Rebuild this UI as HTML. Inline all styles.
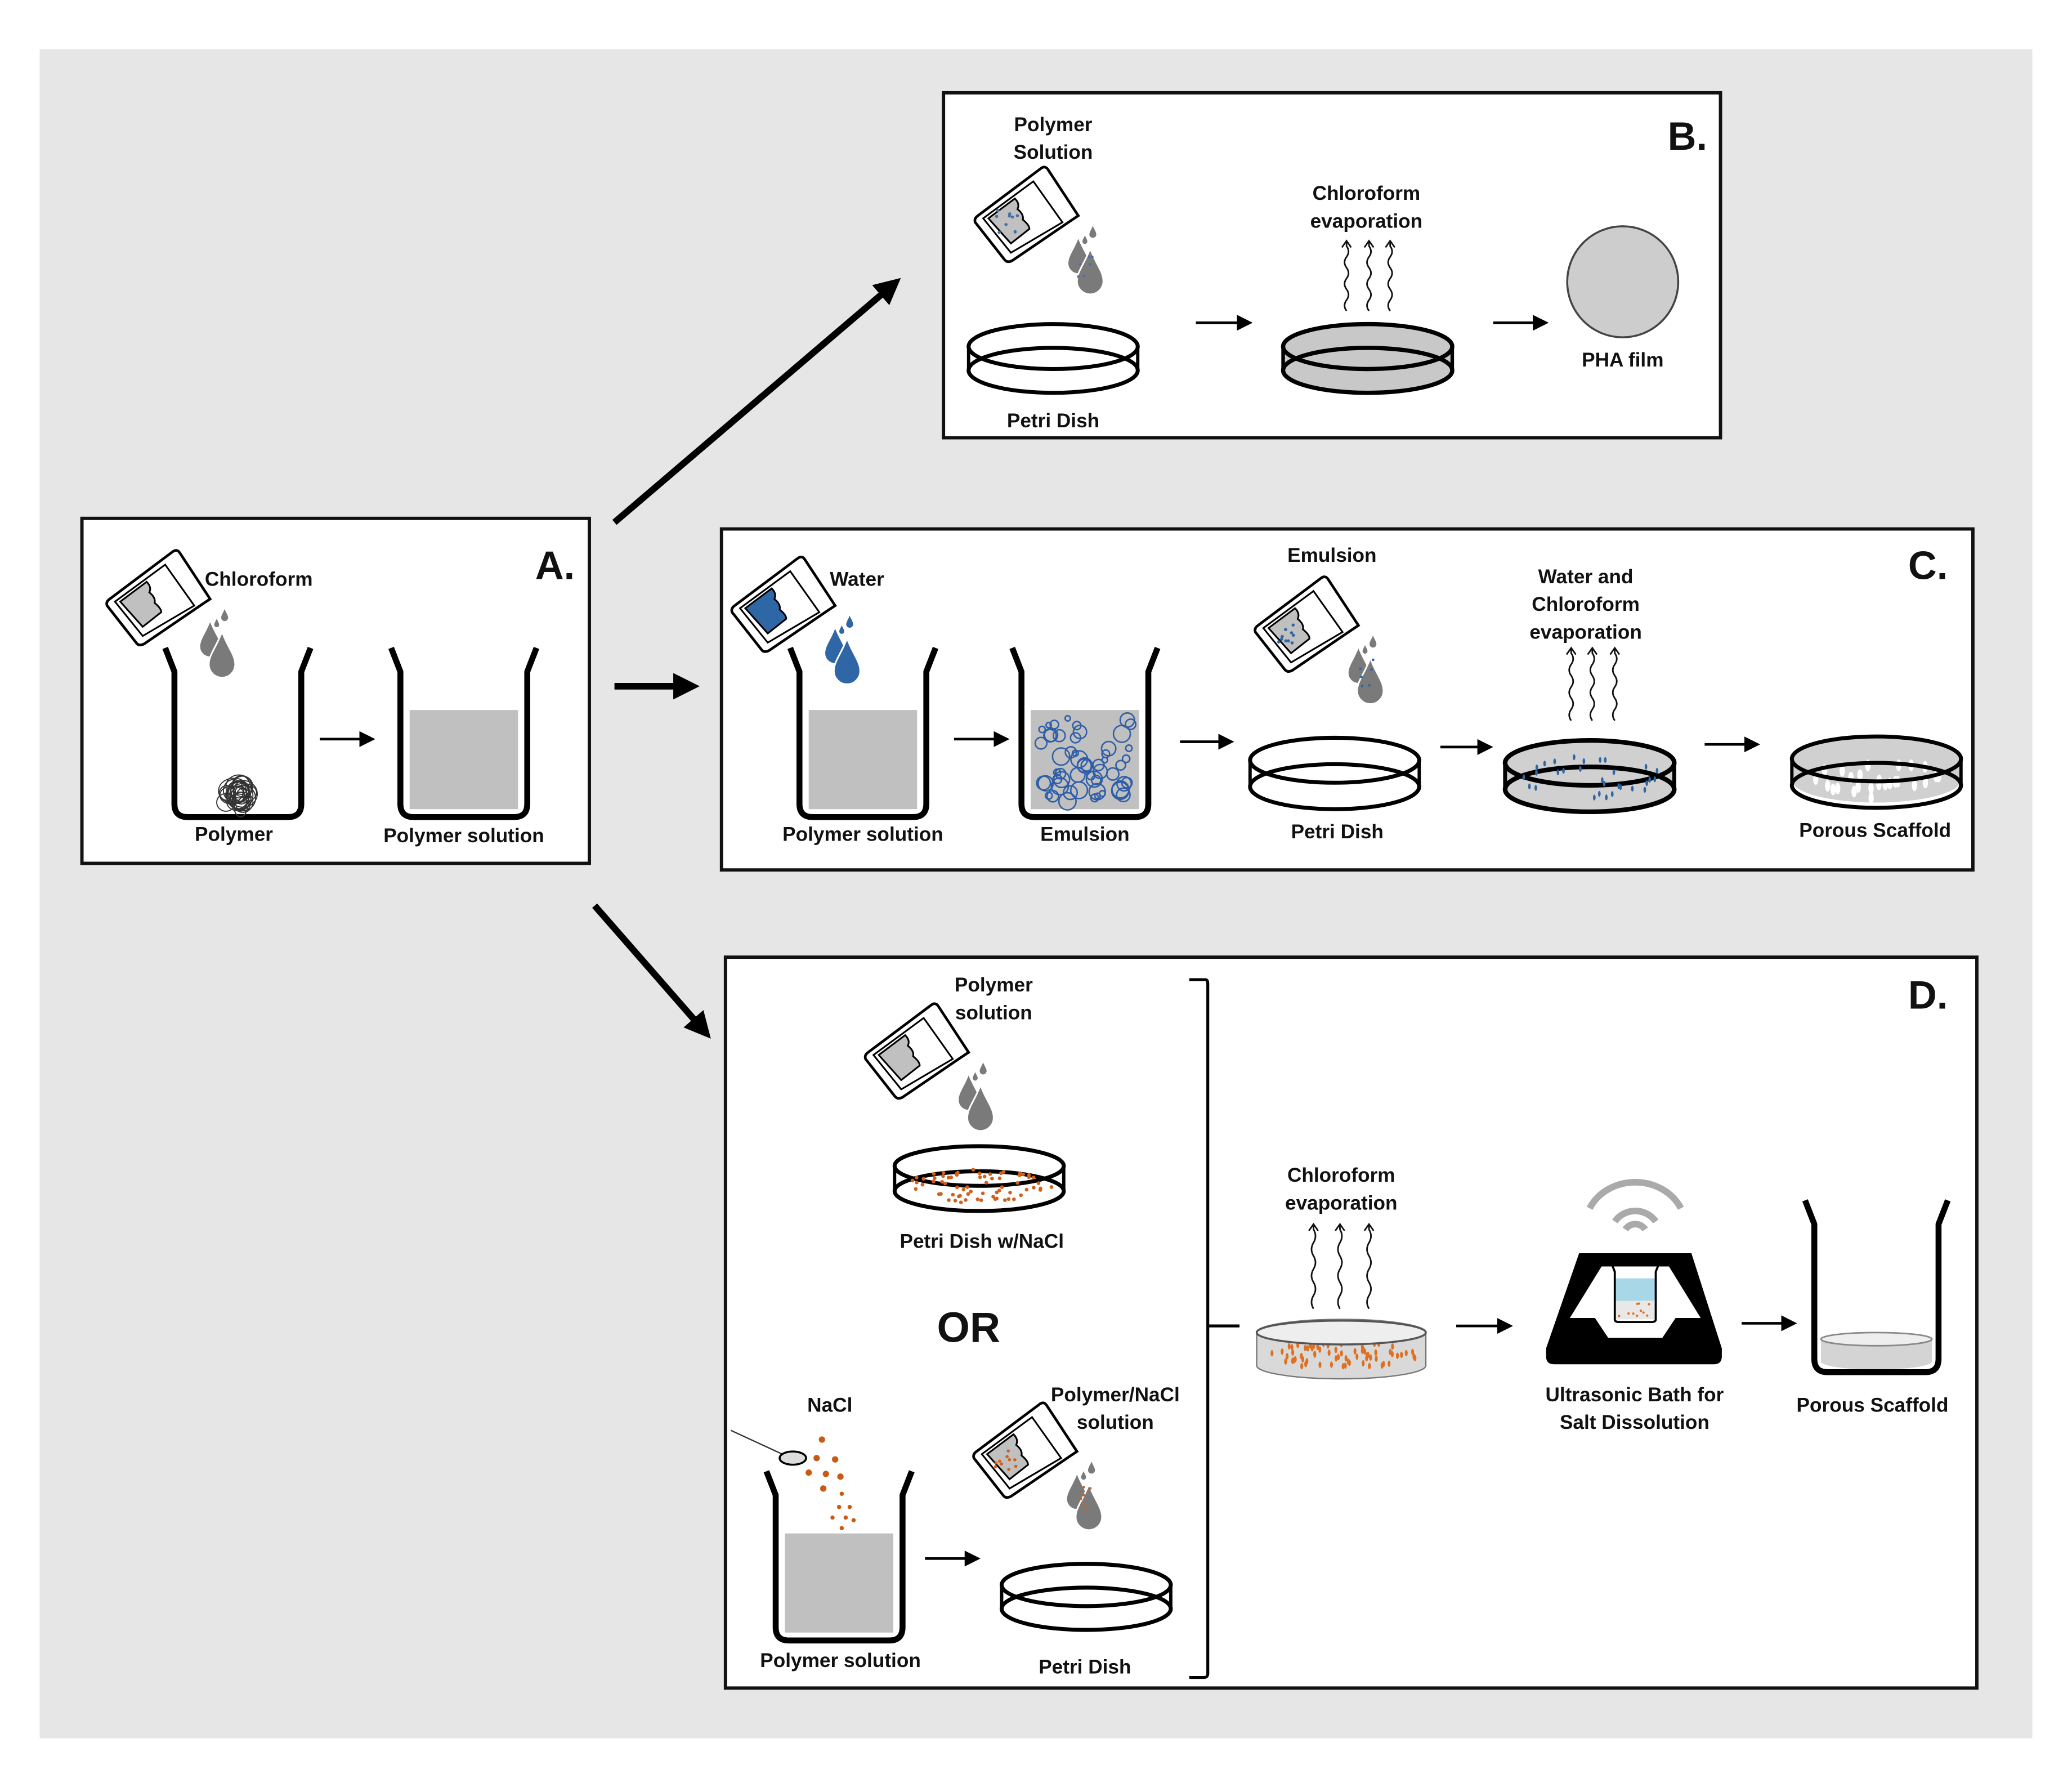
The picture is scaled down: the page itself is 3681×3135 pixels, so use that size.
<!DOCTYPE html>
<html><head><meta charset="utf-8">
<style>
html,body{margin:0;padding:0;background:#fff;}
svg{display:block;}
text{font-family:"Liberation Sans Narrow","Liberation Sans",sans-serif;font-weight:bold;fill:#111;}
</style></head>
<body>
<svg id="s" width="3681" height="3135" viewBox="0 0 1568 1335" xmlns="http://www.w3.org/2000/svg">
<defs>
<marker id="ah" markerWidth="4" markerHeight="4" refX="2.5" refY="2" orient="auto" markerUnits="strokeWidth"><path d="M0,0 L4,2 L0,4 Z" fill="#000"/></marker>
<marker id="ahs" markerWidth="6" markerHeight="6" refX="4" refY="3" orient="auto" markerUnits="strokeWidth"><path d="M0,0 L6,3 L0,6 Z" fill="#000"/></marker>
</defs>
<rect x="0" y="0" width="1568" height="1335" fill="#fff"/>
<rect x="30" y="37" width="1508" height="1278" fill="#e6e6e6"/>
<g id="g"></g>
</svg>
<script>
var o='';
function add(s){o+=s;}
function box(x,y,w,h){add('<rect x="'+x+'" y="'+y+'" width="'+w+'" height="'+h+'" fill="#fff" stroke="#111" stroke-width="2.5"/>');}
function t(x,y,s,sz,anc){add('<text x="'+x+'" y="'+y+'" font-size="'+(sz||15)+'" text-anchor="'+(anc||'middle')+'">'+s+'</text>');}
function arr(x1,y,x2){add('<line x1="'+x1+'" y1="'+y+'" x2="'+x2+'" y2="'+y+'" stroke="#000" stroke-width="2" marker-end="url(#ahs)"/>');}
function big(x1,y1,x2,y2){add('<line x1="'+x1+'" y1="'+y1+'" x2="'+x2+'" y2="'+y2+'" stroke="#000" stroke-width="5" marker-end="url(#ah)"/>');}
function beaker(x,y,w,h,fill){
 if(fill) add('<rect x="'+(x+14)+'" y="'+(y+h-81)+'" width="'+(w-28)+'" height="'+75+'" fill="'+fill+'"/>');
 add('<path d="M'+x+','+y+' L'+(x+7)+','+(y+18)+' L'+(x+7)+','+(y+h-10)+' Q'+(x+7)+','+(y+h)+' '+(x+17)+','+(y+h)+' L'+(x+w-17)+','+(y+h)+' Q'+(x+w-7)+','+(y+h)+' '+(x+w-7)+','+(y+h-10)+' L'+(x+w-7)+','+(y+18)+' L'+(x+w)+','+y+'" fill="none" stroke="#000" stroke-width="4.5" stroke-linejoin="round"/>');
}
function petri(cx,cy,rx,ry,dy,fill,sw){
 sw=sw||3;
 if(fill){add('<path d="M'+(cx-rx)+','+cy+' L'+(cx-rx)+','+(cy+dy)+' A'+rx+','+ry+' 0 0 0 '+(cx+rx)+','+(cy+dy)+' L'+(cx+rx)+','+cy+' A'+rx+','+ry+' 0 0 0 '+(cx-rx)+','+cy+'Z" fill="'+fill+'"/>');}
 add('<ellipse cx="'+cx+'" cy="'+cy+'" rx="'+rx+'" ry="'+ry+'" fill="none" stroke="#000" stroke-width="'+sw+'"/>');
 add('<ellipse cx="'+cx+'" cy="'+(cy+dy)+'" rx="'+rx+'" ry="'+ry+'" fill="none" stroke="#000" stroke-width="'+sw+'"/>');
 add('<line x1="'+(cx-rx)+'" y1="'+cy+'" x2="'+(cx-rx)+'" y2="'+(cy+dy)+'" stroke="#000" stroke-width="'+(sw-0.5)+'"/>');
 add('<line x1="'+(cx+rx)+'" y1="'+cy+'" x2="'+(cx+rx)+'" y2="'+(cy+dy)+'" stroke="#000" stroke-width="'+(sw-0.5)+'"/>');
}
var seed=7;function rnd(){seed=(seed*16807)%2147483647;return seed/2147483647;}
function dotsEll(cx,cy,rx,ry,n,col,r,ell){
 for(var i=0;i<n;i++){var a=rnd()*6.283,d=Math.sqrt(rnd());var x=cx+Math.cos(a)*rx*d,y=cy+Math.sin(a)*ry*d;
  if(ell) add('<ellipse cx="'+x.toFixed(1)+'" cy="'+y.toFixed(1)+'" rx="'+r+'" ry="'+(r*2.2)+'" fill="'+col+'"/>');
  else add('<circle cx="'+x.toFixed(1)+'" cy="'+y.toFixed(1)+'" r="'+r+'" fill="'+col+'"/>');}
}
function drop(x,y,s,c){add('<path transform="translate('+x+','+y+') scale('+s+')" d="M0,-14 C3,-5 8,0 8,6 A8,8 0 0 1 -8,6 C-8,0 -3,-5 0,-14Z" fill="'+c+'" stroke="#fff" stroke-width="1"/>');}
function bottle(x,y,liq,dcol,dots){
 add('<g transform="translate('+x+','+y+')">');
 add('<path d="M2,-2 L50,-38 Q53,-40 55,-37 L78,-2 L72,2 L28,32 Q24,34 22,31 L0,3 Q-1,0 2,-2Z" fill="#fff" stroke="#000" stroke-width="2"/>');
 add('<path d="M6,0 L44,-28 L66,3 L27,26 Z" fill="none" stroke="#000" stroke-width="1.3"/>');
 add('<path d="M10,0 L30,-15 Q34,-11 32,-7 Q37,-3 36,1 Q41,5 41,8 L27,19 Z" fill="'+liq+'" stroke="#000" stroke-width="1.3"/>');
 if(dots){for(var i=0;i<10;i++){add('<circle cx="'+(16+rnd()*16).toFixed(1)+'" cy="'+(-6+rnd()*18).toFixed(1)+'" r="1.2" fill="'+dots+'"/>');}}
 drop(78,28,1.0,dcol);drop(87,40,1.25,dcol);drop(89,10,0.35,dcol);drop(83,16,0.25,dcol);
 if(dots){for(var i=0;i<6;i++){add('<circle cx="'+(78+rnd()*12).toFixed(1)+'" cy="'+(24+rnd()*22).toFixed(1)+'" r="1" fill="'+dots+'"/>');}}
 add('</g>');
}
function wave(x,y1,y2){
 var d='M'+x+','+y1;var n=6,h=(y1-y2-4)/n;
 for(var i=0;i<n;i++){var yy=y1-h*(i+1);d+=' Q'+(x+(i%2?3:-3))+','+(y1-h*(i+0.5))+' '+x+','+yy;}
 d+=' L'+x+','+y2;
 add('<path d="'+d+'" fill="none" stroke="#111" stroke-width="1.2"/>');
 add('<path d="M'+(x-3.5)+','+(y2+5)+' L'+x+','+y2+' L'+(x+3.5)+','+(y2+5)+'" fill="none" stroke="#111" stroke-width="1.2"/>');
}
big(465,395,676,215);
big(465,519,522,519);
big(450,685,533,780);
/* A */
box(62,392,384,261);
t(155,443,'Chloroform',15,'start');
t(405,438,'A.',30,'start');
bottle(81,455,'#c0c0c0','#7a7a7a');
beaker(125,490,110,128);
beaker(296,490,110,128,'#c0c0c0');
add('<g stroke="#333" stroke-width="0.8" fill="none">');
for(var i=0;i<22;i++){add('<ellipse cx="'+(178+(rnd()-0.5)*14).toFixed(1)+'" cy="'+(601+(rnd()-0.5)*14).toFixed(1)+'" rx="'+(5+rnd()*7).toFixed(1)+'" ry="'+(5+rnd()*8).toFixed(1)+'"/>');}
add('</g>');
arr(242,559,280);
t(177,636,'Polymer');t(351,637,'Polymer solution');
/* B */
box(714,70,588,261);
t(797,99,'Polymer');t(797,120,'Solution');t(1262,113,'B.',30,'start');
bottle(738,165,'#c0c0c0','#7a7a7a','#4a6fa5');
petri(797,262,64,17,18);
t(797,323,'Petri Dish');
arr(905,244,944);
petri(1035,262,64,17,18,'#c8c8c8',3.2);
t(1034,151,'Chloroform');t(1034,172,'evaporation');
wave(1019,235,182);wave(1036,235,182);wave(1052,235,182);
arr(1130,244,1168);
add('<circle cx="1228" cy="213" r="42" fill="#cdcdcd" stroke="#444" stroke-width="1.5"/>');
t(1228,277,'PHA film');
/* C */
box(546,400,947,258);
t(628,443,'Water',15,'start');t(1444,438,'C.',30,'start');
bottle(554,460,'#2e66a6','#2e66a6');
beaker(598,490,110,128,'#c0c0c0');
arr(722,559,760);
beaker(766,490,110,128,'#c0c0c0');
for(var i=0;i<55;i++){add('<circle cx="'+(786+rnd()*70).toFixed(1)+'" cy="'+(543+rnd()*64).toFixed(1)+'" r="'+(2+rnd()*4.5).toFixed(1)+'" fill="none" stroke="#2e5ea8" stroke-width="1.1"/>');}
t(653,636,'Polymer solution');t(821,636,'Emulsion');
t(1008,425,'Emulsion');
bottle(950,475,'#c0c0c0','#7a7a7a','#2e66a6');
arr(893,561,930);
petri(1010,575,64,17,20);
t(1012,634,'Petri Dish');
arr(1090,565,1126);
petri(1203,577,64,17,20,'#d0d0d0',3.5);
dotsEll(1203,588,55,16,30,'#2e66a6',1,true);
t(1200,441,'Water and');t(1200,462,'Chloroform');t(1200,483,'evaporation');
wave(1189,545,490);wave(1205,545,490);wave(1222,545,490);
arr(1290,563,1328);
add('<path d="M1356,590 A64,17 0 0 0 1484,590 L1484,575 A64,17 0 0 0 1356,575Z" fill="#d0d0d0"/>');
dotsEll(1420,590,55,14,26,'#fff',2,true);
petri(1420,574,64,17,20,null,3);
t(1419,633,'Porous Scaffold');
/* D */
box(549,724,947,553);
t(1444,763,'D.',30,'start');
t(752,750,'Polymer');t(752,771,'solution');
bottle(655,798,'#c0c0c0','#7a7a7a');
petri(741,882,64,15,19);
dotsEll(741,897,55,13,70,'#d0601a',1.4);
t(743,944,'Petri Dish w/NaCl');
t(733,1015,'OR',32);
t(628,1068,'NaCl');
add('<line x1="553" y1="1082" x2="592" y2="1100" stroke="#333" stroke-width="1"/><ellipse cx="600" cy="1103" rx="10" ry="5" fill="#ddd" stroke="#000" stroke-width="1.5"/>');
var nd=[[622,1099,2.4],[618,1113,2.4],[632,1114,2.4],[612,1124,2.4],[625,1125,2.4],[636,1127,2.4],[623,1136,2.4],[637,1140,1.6],[635,1150,1.6],[643,1150,1.6],[630,1158,1.6],[640,1158,1.6],[646,1160,1.6],[637,1166,1.6]];
nd.forEach(function(p){add('<circle cx="'+p[0]+'" cy="'+(p[1]-10)+'" r="'+p[2]+'" fill="#c85a14"/>');});
beaker(580,1113,110,128,'#c0c0c0');
t(636,1261,'Polymer solution');
arr(700,1179,738);
t(844,1060,'Polymer/NaCl');t(844,1081,'solution');
bottle(737,1100,'#c0c0c0','#7a7a7a','#d0601a');
petri(822,1199,64,16,18);
t(821,1266,'Petri Dish');
add('<path d="M900,741 L912,741 Q914,741 914,744 L914,1266 Q914,1269 911,1269 L900,1269 M914,1003 L938,1003" fill="none" stroke="#000" stroke-width="2.2"/>');
t(1015,894,'Chloroform');t(1015,915,'evaporation');
wave(994,990,926);wave(1014,990,926);wave(1036,990,926);
add('<path d="M951,1008 L951,1033 A64,10 0 0 0 1079,1033 L1079,1008 A64,10 0 0 0 951,1008Z" fill="#d9d9d9" stroke="#777" stroke-width="1"/>');
dotsEll(1015,1025,58,10,70,'#e07020',1.1,true);
add('<ellipse cx="1015" cy="1008" rx="64" ry="9" fill="#eeeeee" stroke="#555" stroke-width="1.5"/>');
arr(1102,1003,1141);
add('<path d="M1195,948 L1280,948 L1303,1020 L1303,1026 Q1303,1032 1297,1032 L1176,1032 Q1170,1032 1170,1026 L1170,1020 Z" fill="#000"/>');
add('<path d="M1212,958 L1263,958 L1287,997 L1268,997 L1258,1012 L1217,1012 L1207,997 L1188,997 Z" fill="#fff"/>');
add('<rect x="1222" y="967" width="31" height="17" fill="#a8d8e8"/><rect x="1222" y="984" width="31" height="14" fill="#e8e8e8"/>');
for(var i=0;i<10;i++){add('<circle cx="'+(1225+rnd()*25).toFixed(1)+'" cy="'+(986+rnd()*10).toFixed(1)+'" r="0.9" fill="#e07020"/>');}
add('<path d="M1220,957 L1222,962 L1222,998 Q1222,1000 1225,1000 L1250,1000 Q1253,1000 1253,998 L1253,962 L1255,957" fill="none" stroke="#000" stroke-width="1.6"/>');
add('<g fill="none" stroke="#aaa" stroke-width="5"><path d="M1230,930 A9,9 0 0 1 1245,930"/><path d="M1222,924 A19,19 0 0 1 1253,924"/><path d="M1203,914 A38,34 0 0 1 1272,914"/></g>');
t(1237,1060,'Ultrasonic Bath for');t(1237,1081,'Salt Dissolution');
arr(1318,1001,1356);
add('<path d="M1378,1013 L1378,1030 A42,6 0 0 0 1462,1030 L1462,1013Z" fill="#d4d4d4"/><ellipse cx="1420" cy="1013" rx="42" ry="5" fill="#eee" stroke="#888" stroke-width="1.2"/>');
beaker(1366,908,108,130);
t(1417,1068,'Porous Scaffold');
document.getElementById('g').innerHTML=o;
</script>
</body></html>
